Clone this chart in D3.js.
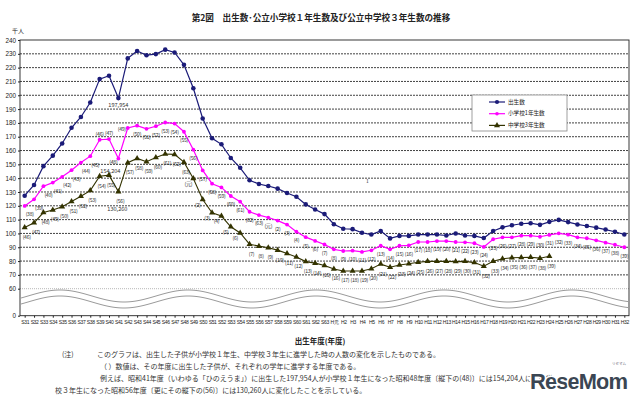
<!DOCTYPE html>
<html>
<head>
<meta charset="utf-8">
<script src="https://cdn.jsdelivr.net/npm/d3@7"></script>
<style>
body { margin: 0; background: #fff; }
text { font-family: "Noto Sans CJK JP", "DejaVu Sans", sans-serif; }
</style>
</head>
<body>
<div id="chart"></div>
<script>
// 出生年度 (x axis categories)
const years = ["S31","S32","S33","S34","S35","S36","S37","S38","S39","S40","S41","S42","S43","S44","S45","S46","S47","S48","S49","S50",
  "S51","S52","S53","S54","S55","S56","S57","S58","S59","S60","S61","S62","S63","H元","H2","H3","H4","H5","H6","H7",
  "H8","H9","H10","H11","H12","H13","H14","H15","H16","H17","H18","H19","H20","H21","H22","H23","H24","H25","H26","H27",
  "H28","H29","H30","H31","H32"];

// 千人
const births = [127.3,135.1,148.7,156.3,165.1,176.5,184.3,194.8,211.7,214.1,197.954,226.7,232.0,229.0,229.8,233.0,231.0,222.0,205.1,183.2,
  168.9,164.5,154.6,147.5,138.5,135.8,134.3,132.4,129.3,126.5,121.0,117.3,114.0,106.7,103.4,103.1,100.5,99.2,101.8,96.4,
  98.2,98.2,99.2,99.2,99.2,98.5,100.0,98.5,98.2,96.7,101.8,104.4,105.9,107.0,107.4,106.2,108.4,109.8,108.2,106.5,
  105.4,104.2,102.8,101.2,99.2];

const elementary = [119.9,124.7,134.2,136.8,141.0,145.8,151.3,155.9,167.8,168.3,154.204,176.3,178.0,175.7,177.6,180.3,179.5,173.6,160.6,145.6,
  136.0,133.3,127.1,123.0,115.7,113.3,111.5,109.3,106.4,101.3,97.3,94.6,92.0,88.5,87.3,87.5,86.6,87.8,91.1,88.5,
  91.1,91.4,93.8,93.8,94.5,94.5,93.8,93.6,92.9,90.2,95.8,97.2,97.2,98.4,98.4,97.6,98.9,100.1,99.1,97.2,
  96.5,95.0,93.3,91.8,90.0];

const juniorHigh = [104.3,107.7,115.1,116.9,119.3,123.1,126.9,131.0,141.4,142.2,130.26,151.2,154.3,151.9,155.0,157.5,157.2,151.6,139.8,124.5,
  115.0,112.6,104.8,100.3,92.2,90.8,89.6,87.9,85.4,82.9,79.6,78.5,76.8,74.3,72.8,72.8,72.8,74.4,77.8,75.5,
  77.2,78.1,79.2,79.8,79.8,79.8,79.6,79.8,78.9,76.3,79.8,81.7,82.4,82.6,82.8,82.1,83.5];

// 進学年度 labels
const elemEntry = ["(38)","(39)","(40)","(41)","(42)","(43)","(44)","(45)","(46)","(47)","(48)","(49)","(50)","(51)","(52)","(53)","(54)","(55)","(56)","(57)",
  "(58)","(59)","(60)","(61)","(62)","(63)","(元)","(2)","(3)","(4)","(5)","(6)","(7)","(8)","(9)","(10)","(11)","(12)","(13)","(14)",
  "(15)","(16)","(17)","(18)","(19)","(20)","(21)","(22)","(23)","(24)","(25)","(26)","(27)","(28)","(29)","(30)","(31)","(32)","(33)","(34)",
  "(35)","(36)","(37)","(38)","(39)"];
const juniorEntry = ["(46)","(47)","(48)","(49)","(50)","(51)","(52)","(53)","(54)","(55)","(56)","(57)","(58)","(59)","(60)","(61)","(62)","(63)","(元)","(2)",
  "(3)","(4)","(5)","(6)","(7)","(8)","(9)","(10)","(11)","(12)","(13)","(14)","(15)","(16)","(17)","(18)","(19)","(20)","(21)","(22)",
  "(23)","(24)","(25)","(26)","(27)","(28)","(29)","(30)","(31)","(32)","(33)","(34)","(35)","(36)","(37)","(38)","(39)"];

const yTicks = [0,60,70,80,90,100,110,120,130,140,150,160,170,180,190,200,210,220,230,240];
const seriesNames = ["出生数","小学校1年生数","中学校3年生数"];

const width = 640, height = 395;
const plotLeft = 20, plotRight = 629, plotTop = 40, plotBottom = 315.7;
const navy = "#1b1b78", pink = "#ff00ff", olive = "#333300";

const svg = d3.select("#chart").append("svg")
  .attr("width", width).attr("height", height);

const x = d3.scalePoint().domain(years).range([plotLeft, plotRight]).padding(0.5);
// broken axis: 0-60 squeezed
const y = d3.scaleLinear().domain([0, 60, 240]).range([plotBottom, 288.7, plotTop]);

// title
svg.append("text")
  .attr("x", 321).attr("y", 21)
  .attr("text-anchor", "middle")
  .attr("font-size", 8.6).attr("font-weight", "bold").attr("fill", "#222")
  .text("第2図　出生数･公立小学校１年生数及び公立中学校３年生数の推移");

svg.append("text").attr("x", 12).attr("y", 33).attr("font-size", 6).attr("fill", "#222").text("千人");

// grid
svg.append("g").selectAll("line")
  .data(yTicks.filter(d => d > 60 && d < 240))
  .enter().append("line")
  .attr("x1", plotLeft).attr("x2", plotRight)
  .attr("y1", d => y(d)).attr("y2", d => y(d))
  .attr("stroke", "#111").attr("stroke-width", 0.8).attr("stroke-dasharray", "2,1");

svg.append("line")
  .attr("x1", plotLeft).attr("x2", plotRight).attr("y1", y(60)).attr("y2", y(60))
  .attr("stroke", "#999").attr("stroke-width", 0.7).attr("stroke-dasharray", "1,1");

// wavy break
const waveX = d3.range(plotLeft + 1, plotRight, 1);
[0, 6].forEach(off => {
  svg.append("path")
    .attr("d", d3.line()(waveX.map(v => [v, 296 + off - 6 * Math.cos((v - 60) / 128 * 2 * Math.PI)])))
    .attr("fill", "none").attr("stroke", "#9a9a9a").attr("stroke-width", 1);
});

// frame
svg.append("rect")
  .attr("x", plotLeft).attr("y", plotTop).attr("width", plotRight - plotLeft).attr("height", plotBottom - plotTop)
  .attr("fill", "none").attr("stroke", "#222").attr("stroke-width", 0.9);

// y axis
const yAxis = svg.append("g").attr("transform", `translate(${plotLeft},0)`)
  .call(d3.axisLeft(y).tickValues(yTicks).tickSize(2).tickPadding(2));
yAxis.select(".domain").remove();
yAxis.selectAll("text").attr("font-size", 6.3).attr("fill", "#222")
  .style("font-family", "'Liberation Sans', Arial, sans-serif");
yAxis.selectAll("line").attr("stroke", "#222");

// x axis
const xAxis = svg.append("g").attr("transform", `translate(0,${plotBottom})`)
  .call(d3.axisBottom(x).tickSize(2).tickPadding(2.5));
xAxis.select(".domain").remove();
xAxis.selectAll("text").attr("font-size", 5).attr("fill", "#222")
  .attr("letter-spacing", -0.35)
  .style("font-family", "'Liberation Sans Narrow', 'Liberation Sans', sans-serif");
xAxis.selectAll("line").attr("stroke", "#222");

svg.append("text").attr("x", 320).attr("y", 344).attr("text-anchor", "middle")
  .attr("font-size", 7.5).attr("font-weight", "bold").attr("fill", "#222")
  .text("出生年度(年度)");

// series
const line = d3.line().x((d, i) => x(years[i])).y(d => y(d));

svg.append("path").datum(juniorHigh).attr("d", line)
  .attr("fill", "none").attr("stroke", olive).attr("stroke-width", 1.1);
svg.append("path").datum(elementary).attr("d", line)
  .attr("fill", "none").attr("stroke", pink).attr("stroke-width", 1.2);
svg.append("path").datum(births).attr("d", line)
  .attr("fill", "none").attr("stroke", navy).attr("stroke-width", 1.2);

const tri = d3.symbol().type(d3.symbolTriangle).size(16);
svg.append("g").selectAll("path").data(juniorHigh).enter().append("path")
  .attr("d", tri).attr("fill", olive)
  .attr("transform", (d, i) => `translate(${x(years[i])},${y(d)})`);
svg.append("g").selectAll("circle").data(elementary).enter().append("circle")
  .attr("cx", (d, i) => x(years[i])).attr("cy", d => y(d)).attr("r", 1.9).attr("fill", pink);
svg.append("g").selectAll("circle").data(births).enter().append("circle")
  .attr("cx", (d, i) => x(years[i])).attr("cy", d => y(d)).attr("r", 2.3).attr("fill", navy);

// entry-year labels
const elemOffset = i => {
  if (i < 8) return [5, 9];
  if (i === 8 || i === 9) return [0, -5];
  if (i === 10) return [-5, 4];
  if (i === 11) return [-6, 2];
  return [0, 9];
};
const juniorOffset = i => (i >= 18 && i <= 23) ? [-5, 6] : [2, 10];

svg.append("g").selectAll("text").data(elemEntry).enter().append("text")
  .attr("x", (d, i) => x(years[i]) + elemOffset(i)[0])
  .attr("y", (d, i) => y(elementary[i]) + elemOffset(i)[1])
  .attr("text-anchor", "middle").attr("dominant-baseline", "middle")
  .attr("font-size", 5.2).attr("fill", "#333").attr("letter-spacing", -0.3)
  .text(d => d);

svg.append("g").selectAll("text").data(juniorEntry).enter().append("text")
  .attr("x", (d, i) => x(years[i]) + juniorOffset(i)[0])
  .attr("y", (d, i) => y(juniorHigh[i]) + juniorOffset(i)[1])
  .attr("text-anchor", "middle").attr("dominant-baseline", "middle")
  .attr("font-size", 5.2).attr("fill", "#333").attr("letter-spacing", -0.3)
  .text(d => d);

// ひのえうま annotations
const fmt = v => d3.format(",")(Math.round(v * 1000));
const hinoe = years.indexOf("S41");
[[births, 0, 7], [elementary, -8, 13], [juniorHigh, -1, 18]].forEach(([s, dx, dy]) => {
  svg.append("text")
    .attr("x", x(years[hinoe]) + dx).attr("y", y(s[hinoe]) + dy)
    .attr("text-anchor", "middle").attr("dominant-baseline", "middle")
    .attr("font-size", 5.6).attr("fill", "#333")
    .text(fmt(s[hinoe]));
});

svg.append("text").attr("x", 366).attr("y", 183).attr("font-size", 5).attr("fill", "#333").text("1");

// legend
const lg = svg.append("g").attr("transform", "translate(472,95)");
lg.append("rect").attr("width", 95).attr("height", 36)
  .attr("fill", "#fff").attr("stroke", "#888").attr("stroke-width", 0.8);
const colors = [navy, pink, olive];
seriesNames.forEach((name, k) => {
  const yy = 7 + k * 11.7;
  lg.append("line").attr("x1", 17).attr("x2", 33).attr("y1", yy).attr("y2", yy)
    .attr("stroke", colors[k]).attr("stroke-width", 1.2);
  if (k === 2) {
    lg.append("path").attr("d", tri).attr("fill", olive).attr("transform", `translate(25,${yy})`);
  } else {
    lg.append("circle").attr("cx", 25).attr("cy", yy).attr("r", k === 0 ? 2.1 : 1.8).attr("fill", colors[k]);
  }
  lg.append("text").attr("x", 36).attr("y", yy).attr("dominant-baseline", "middle")
    .attr("font-size", 5.6).attr("fill", "#222").text(name);
});

// notes
const notes = [
  [62, 357, "(注)"],
  [97, 357, "このグラフは、出生した子供が小学校１年生、中学校３年生に進学した時の人数の変化を示したものである。"],
  [100, 369, "（ ）数値は、その年度に出生した子供が、それぞれの学年に進学する年度である。"],
  [100, 381, "例えば、昭和41年度（いわゆる「ひのえうま」）に出生した197,954人が小学校１年生になった昭和48年度〔縦下の(48)〕には154,204人に、中学"],
  [55, 393, "校３年生になった昭和56年度〔更にその縦下の(56)〕には130,260人に変化したことを示している。"]
];
svg.append("g").selectAll("text").data(notes).enter().append("text")
  .attr("x", d => d[0]).attr("y", d => d[1])
  .attr("font-size", 7).attr("fill", "#333")
  .text(d => d[2]);

// watermark
svg.append("text").attr("x", 612).attr("y", 365).attr("font-size", 3.5).attr("fill", "#667").text("リセマム");
svg.append("text").attr("x", 530).attr("y", 389)
  .attr("font-size", 22).attr("font-weight", "bold").attr("fill", "#3b4653")
  .attr("stroke", "#fff").attr("stroke-width", 3).attr("paint-order", "stroke")
  .style("font-family", "'Liberation Sans Narrow', 'Liberation Sans', sans-serif")
  .attr("textLength", 98)
  .text("ReseMom");
</script>
</body>
</html>
